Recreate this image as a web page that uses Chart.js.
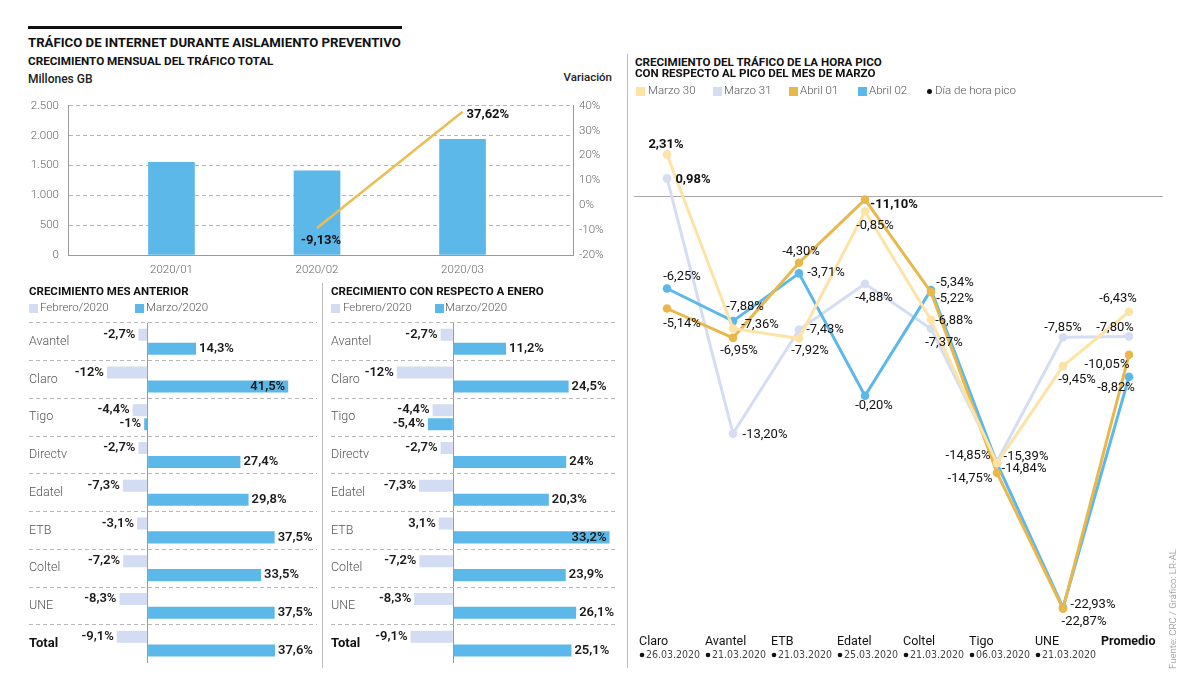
<!DOCTYPE html>
<html lang="es">
<head>
<meta charset="utf-8">
<title>Tráfico de internet durante aislamiento preventivo</title>
<script src="https://cdn.jsdelivr.net/npm/chart.js@4.4.1/dist/chart.umd.min.js"></script>
<style>
    body { margin: 0; background: #fff; font-family: Roboto, "Noto Sans", sans-serif; color: #222; }
    #page { position: relative; width: 1200px; height: 691px; overflow: hidden; background: #fff; }
    .t { position: absolute; white-space: nowrap; line-height: 1; }
    .h { font-weight: 700; color: #111; }
    .lg { font-size: 11.5px; font-weight: 300; color: #555; }
    .sq { position: absolute; width: 9px; height: 9px; }
    .rule { position: absolute; background: #bdbdbd; width: 1px; }
    canvas { position: absolute; }
</style>
</head>
<body>
<div id="page">
    <div style="position:absolute;left:28px;top:25.5px;width:374px;height:3px;background:#111"></div>
    <div class="t h" style="left:28px;top:36.2px;font-size:13.2px">TRÁFICO DE INTERNET DURANTE AISLAMIENTO PREVENTIVO</div>
    <div class="t h" style="left:28px;top:56.2px;font-size:11.7px">CRECIMIENTO MENSUAL DEL TRÁFICO TOTAL</div>
    <div class="t" style="left:28px;top:72.8px;font-size:12px;font-weight:500;color:#222">Millones GB</div>
    <div class="t" style="right:588px;top:72px;font-size:11.5px;font-weight:500;color:#222">Variación</div>

    <canvas id="c-mensual" width="620" height="195" style="left:0;top:90px"></canvas>

    <!-- bloque inferior izquierdo -->
    <div class="t h" style="left:29px;top:286px;font-size:11.5px">CRECIMIENTO MES ANTERIOR</div>
    <div class="sq" style="left:29px;top:303.5px;background:#d2dcf2"></div>
    <div class="t lg" style="left:40px;top:302px">Febrero/2020</div>
    <div class="sq" style="left:135px;top:303.5px;background:#5cb8e9"></div>
    <div class="t lg" style="left:146px;top:302px">Marzo/2020</div>
    <canvas id="c-anterior" width="322" height="355" style="left:0;top:315px"></canvas>

    <div class="rule" style="left:322px;top:283px;height:385px"></div>

    <div class="t h" style="left:331px;top:286px;font-size:11.6px">CRECIMIENTO CON RESPECTO A ENERO</div>
    <div class="sq" style="left:331px;top:303.5px;background:#d2dcf2"></div>
    <div class="t lg" style="left:343px;top:302px">Febrero/2020</div>
    <div class="sq" style="left:435px;top:303.5px;background:#5cb8e9"></div>
    <div class="t lg" style="left:445px;top:302px">Marzo/2020</div>
    <canvas id="c-enero" width="300" height="355" style="left:322px;top:315px"></canvas>

    <!-- bloque derecho -->
    <div class="rule" style="left:627px;top:54px;height:614px"></div>
    <div class="t h" style="left:635px;top:56.6px;font-size:11.6px">CRECIMIENTO DEL TRÁFICO DE LA HORA PICO</div>
    <div class="t h" style="left:635px;top:68.2px;font-size:11.6px">CON RESPECTO AL PICO DEL MES DE MARZO</div>
    <div class="sq" style="left:636px;top:86.5px;background:#fde3a5"></div>
    <div class="t lg" style="left:648px;top:85px">Marzo 30</div>
    <div class="sq" style="left:712.5px;top:86.5px;background:#d5ddf3"></div>
    <div class="t lg" style="left:724px;top:85px">Marzo 31</div>
    <div class="sq" style="left:789px;top:86.5px;background:#e9b84c"></div>
    <div class="t lg" style="left:800px;top:85px">Abril 01</div>
    <div class="sq" style="left:858px;top:86.5px;background:#5cb8e9"></div>
    <div class="t lg" style="left:869px;top:85px">Abril 02</div>
    <div style="position:absolute;left:926.5px;top:88.5px;width:5px;height:5px;border-radius:50%;background:#111"></div>
    <div class="t lg" style="left:935px;top:85px">Día de hora pico</div>
    <canvas id="c-pico" width="560" height="580" style="left:620px;top:100px"></canvas>

    <div class="t" style="left:1168px;top:669px;font-size:9.6px;font-weight:300;color:#888;transform:rotate(-90deg);transform-origin:0 0">Fuente: CRC / Gráfico: LR-AL</div>
</div>

<script>
// --- datos: tráfico mensual ---
const meses = ['2020/01', '2020/02', '2020/03'];
const traficoMillonesGB = [1552, 1410, 1940];
const variacionMensual = [null, -9.13, 37.62];

// --- datos: crecimiento por operador ---
const operadores = ['Avantel', 'Claro', 'Tigo', 'Directv', 'Edatel', 'ETB', 'Coltel', 'UNE', 'Total'];
const anteriorFebrero = [-2.7, -12, -4.4, -2.7, -7.3, -3.1, -7.2, -8.3, -9.1];
const anteriorMarzo = [14.3, 41.5, -1, 27.4, 29.8, 37.5, 33.5, 37.5, 37.6];
const eneroFebrero = [-2.7, -12, -4.4, -2.7, -7.3, -3.1, -7.2, -8.3, -9.1];
const eneroMarzo = [11.2, 24.5, -5.4, 24, 20.3, 33.2, 23.9, 26.1, 25.1];
const eneroFebreroTextos = ['-2,7%', '-12%', '-4,4%', '-2,7%', '-7,3%', '3,1%', '-7,2%', '-8,3%', '-9,1%'];

// --- datos: hora pico ---
const empresasPico = ['Claro', 'Avantel', 'ETB', 'Edatel', 'Coltel', 'Tigo', 'UNE', 'Promedio'];
const fechasPico = ['26.03.2020', '21.03.2020', '21.03.2020', '25.03.2020', '21.03.2020', '06.03.2020', '21.03.2020', ''];
const marzo30 = [2.31, -7.36, -7.92, -0.85, -6.88, -14.84, -9.45, -6.43];
const marzo31 = [0.98, -13.20, -7.43, -4.88, -7.37, -14.75, -7.85, -7.80];
const abril01 = [-6.25, -7.88, -3.71, -0.20, -5.34, -15.39, -22.93, -8.82];
const abril02 = [-5.14, -6.95, -4.30, -11.10, -5.22, -14.85, -22.87, -10.05];
// textos tal como aparecen junto a cada punto
const textosMarzo30 = ['2,31%', '-7,36%', '-7,92%', '-0,85%', '-6,88%', '-14,84%', '-9,45%', '-6,43%'];
const textosMarzo31 = ['0,98%', '-13,20%', '-7,43%', '-4,88%', '-7,37%', '-15,39%', '-7,85%', '-7,80%'];
const textosAbril01 = ['-5,14%', '-6,95%', '-4,30%', '-11,10%', '-5,22%', '-14,75%', '-22,87%', '-10,05%'];
const textosAbril02 = ['-6,25%', '-7,88%', '-3,71%', '-0,20%', '-5,34%', '-14,85%', '-22,93%', '-8,82%'];
const textosNegrita = ['2,31%', '0,98%', '-11,10%'];

// desplazamiento de cada etiqueta respecto a su punto [dx, dy] (centro del texto)
const despMarzo30 = [[-1, -10], [27, -4], [11, 12], [10, 14], [23, 1], [27, 6], [14, 14], [-11, -13]];
const despMarzo31 = [[26, 1], [32, 1], [26, 0], [9, 14], [13, 14], [29, -5], [0, -10], [-14, -9]];
const despAbril01 = [[15, 15], [6, 13], [2, -11], [29, 5], [24, 7], [-27, 6], [21, 13], [-22, 10]];
const despAbril02 = [[15, -12], [12, -14], [27, -1], [9, 10], [24, -7], [-29, -8], [30, -3], [-13, 11]];

const FAMILIA = 'Roboto, "Noto Sans", sans-serif';
const ANGOSTA = '"Liberation Sans Narrow", "DejaVu Sans Condensed", sans-serif';
const AZUL = '#5cb8e9';
const LILA = '#d2dcf2';

function pct(v) {
    return String(v).replace('.', ',') + '%';
}
function miles(v) {
    return String(v).replace(/\B(?=(\d{3})+(?!\d))/g, '.');
}

const base = {
    responsive: false,
    animation: false,
    events: [],
    plugins: { legend: { display: false }, tooltip: { enabled: false } }
};

// ---------- gráfico mensual (barras + variación) ----------
const etiquetasMensual = {
    id: 'etiquetasMensual',
    afterDatasetsDraw(chart) {
        const { ctx } = chart;
        const linea = chart.getDatasetMeta(0).data;
        ctx.save();
        ctx.font = `700 13px ${FAMILIA}`;
        ctx.fillStyle = '#111';
        ctx.textBaseline = 'middle';
        // primer punto: debajo, centrado; segundo: a la derecha
        ctx.textAlign = 'center';
        ctx.fillText(pct(variacionMensual[1]), linea[0].x + 4, linea[0].y + 13);
        ctx.textAlign = 'left';
        ctx.fillText(pct(variacionMensual[2]), linea[1].x + 4, linea[1].y + 3);
        ctx.restore();
    }
};

const tickFont = { family: FAMILIA, size: 11.5, weight: 300 };

new Chart(document.getElementById('c-mensual'), {
    type: 'bar',
    data: {
        datasets: [
            {
                type: 'line',
                yAxisID: 'y1',
                data: meses.map((m, i) => ({ x: i + 1, y: variacionMensual[i] })).filter(p => p.y !== null),
                borderColor: '#eabd55',
                borderWidth: 2.5,
                pointRadius: 0,
                order: 0
            },
            {
                type: 'bar',
                yAxisID: 'y',
                data: meses.map((m, i) => ({ x: i + 1, y: traficoMillonesGB[i] })),
                backgroundColor: AZUL,
                barThickness: 46,
                order: 1
            }
        ]
    },
    options: {
        ...base,
        layout: { padding: { top: 12, left: 0, right: 0, bottom: 0 } },
        scales: {
            x: {
                type: 'linear',
                offset: false,
                min: 0.289,
                max: 3.759,
                afterBuildTicks: s => { s.ticks = meses.map((m, i) => ({ value: i + 1 })); },
                afterFit: s => { s.height = 30; },
                ticks: { callback: v => meses[v - 1], font: tickFont, color: '#666', padding: 8 },
                grid: { display: false, drawTicks: false },
                border: { color: '#9a9a9a' }
            },
            y: {
                min: 0,
                max: 2500,
                afterFit: s => { s.width = 68; },
                ticks: { stepSize: 500, callback: v => miles(v), font: tickFont, color: '#666', padding: 9 },
                grid: { color: '#b5b5b5', drawTicks: false },
                border: { color: '#9a9a9a', dash: [4, 3] }
            },
            y1: {
                position: 'right',
                min: -20,
                max: 40,
                afterFit: s => { s.width = 47; },
                ticks: { stepSize: 10, callback: v => v + '%', font: tickFont, color: '#666', padding: 6 },
                grid: { display: false, drawTicks: false },
                border: { color: '#9a9a9a' }
            }
        }
    },
    plugins: [etiquetasMensual]
});

// ---------- barras horizontales por operador ----------
const etiquetasBarras = {
    id: 'etiquetasBarras',
    afterDatasetsDraw(chart) {
        const { ctx, chartArea } = chart;
        ctx.save();
        ctx.font = `600 13px ${FAMILIA}`;
        ctx.fillStyle = '#1a1a1a';
        ctx.textBaseline = 'middle';
        chart.data.datasets.forEach((ds, di) => {
            chart.getDatasetMeta(di).data.forEach((bar, i) => {
                const v = ds.data[i];
                const txt = ds.textos ? ds.textos[i] : pct(v);
                const w = ctx.measureText(txt).width;
                if (v < 0 || bar.x + 4 + w > chartArea.right + 4) {
                    ctx.textAlign = 'right';
                    ctx.fillText(txt, bar.x - 3, bar.y);
                } else {
                    ctx.textAlign = 'left';
                    ctx.fillText(txt, bar.x + 3, bar.y);
                }
            });
        });
        ctx.restore();
    }
};

function barrasOperadores(id, febrero, marzo, textosFeb, xMin, xMax, paso, padIzq, padDer) {
    new Chart(document.getElementById(id), {
        type: 'bar',
        data: {
            labels: operadores,
            datasets: [
                { data: febrero, textos: textosFeb, backgroundColor: LILA, categoryPercentage: 0.74, barPercentage: 0.86 },
                { data: marzo, backgroundColor: AZUL, categoryPercentage: 0.74, barPercentage: 0.86 }
            ]
        },
        options: {
            ...base,
            indexAxis: 'y',
            layout: { padding: { left: padIzq, right: padDer, top: 7, bottom: 1.5 } },
            scales: {
                x: {
                    min: xMin,
                    max: xMax,
                    afterFit: s => { s.height = 0; },
                    ticks: { display: false, stepSize: paso },
                    grid: { drawTicks: false, color: c => (c.tick && c.tick.value === 0 ? '#9a9a9a' : 'transparent') },
                    border: { display: false }
                },
                y: {
                    afterFit: s => { s.width = 0; },
                    ticks: {
                        mirror: true,
                        padding: 0,
                        font: c => (c.index === operadores.length - 1
                            ? { family: FAMILIA, size: 13, weight: 700 }
                            : { family: FAMILIA, size: 12.5, weight: 300 }),
                        color: c => (c.index === operadores.length - 1 ? '#111' : '#555')
                    },
                    grid: {
                        drawTicks: false,
                        offset: true,
                        color: c => (c.index < operadores.length ? '#b8b8b8' : 'transparent')
                    },
                    border: { display: false, dash: [4, 3] }
                }
            }
        },
        plugins: [etiquetasBarras]
    });
}

barrasOperadores('c-anterior', anteriorFebrero, anteriorMarzo, null, -35, 50, 5, 29, 5);
barrasOperadores('c-enero', eneroFebrero, eneroMarzo, eneroFebreroTextos, -26, 35, 13, 9, 4);

// ---------- hora pico ----------
const dibujoPico = {
    id: 'dibujoPico',
    beforeDatasetsDraw(chart) {
        const { ctx, chartArea, scales } = chart;
        const y0 = Math.round(scales.y.getPixelForValue(0)) + 0.5;
        ctx.save();
        ctx.strokeStyle = '#a8a8a8';
        ctx.lineWidth = 1;
        ctx.beginPath();
        ctx.moveTo(chartArea.left - 33, y0);
        ctx.lineTo(chartArea.right + 34, y0);
        ctx.stroke();
        ctx.restore();
    },
    afterDatasetsDraw(chart) {
        const { ctx, scales } = chart;
        ctx.save();
        ctx.textBaseline = 'middle';
        // etiquetas de valores
        chart.data.datasets.forEach((ds, di) => {
            chart.getDatasetMeta(di).data.forEach((pt, i) => {
                const txt = ds.textos[i];
                const [dx, dy] = ds.desp[i];
                ctx.font = `${textosNegrita.includes(txt) ? 700 : 400} 13px ${FAMILIA}`;
                ctx.fillStyle = '#111';
                ctx.textAlign = 'center';
                ctx.fillText(txt, pt.x + dx, pt.y + dy);
            });
        });
        // eje x: empresa y fecha del pico
        empresasPico.forEach((nombre, i) => {
            const x = scales.x.getPixelForValue(i) - 28;
            const ultimo = i === empresasPico.length - 1;
            ctx.textAlign = 'left';
            ctx.fillStyle = '#111';
            ctx.font = `${ultimo ? 700 : 400} 12.5px ${FAMILIA}`;
            ctx.fillText(nombre, x, 542);
            if (fechasPico[i]) {
                ctx.beginPath();
                ctx.arc(x + 3, 555, 2.3, 0, Math.PI * 2);
                ctx.fill();
                ctx.fillStyle = '#444';
                ctx.font = `10.5px ${ANGOSTA}`;
                ctx.fillText(fechasPico[i], x + 7, 555);
            }
        });
        ctx.restore();
    }
};

function seriePico(valores, color, textos, desp, orden) {
    return {
        data: valores,
        textos,
        desp,
        borderColor: color,
        backgroundColor: color,
        pointBackgroundColor: color,
        borderWidth: 3,
        pointRadius: 4.3,
        pointBorderWidth: 0,
        tension: 0,
        clip: false,
        order: orden
    };
}

new Chart(document.getElementById('c-pico'), {
    type: 'line',
    data: {
        labels: empresasPico,
        datasets: [
            seriePico(marzo30, '#fde3a5', textosMarzo30, despMarzo30, 0),
            seriePico(abril01, '#e9b84c', textosAbril01, despAbril01, 1),
            seriePico(abril02, AZUL, textosAbril02, despAbril02, 2),
            seriePico(marzo31, '#d5ddf3', textosMarzo31, despMarzo31, 3)
        ]
    },
    options: {
        ...base,
        layout: { padding: { left: 47, right: 51, top: 6, bottom: 34 } },
        scales: {
            x: { display: false, offset: false },
            y: { display: false, min: -25, max: 5 }
        }
    },
    plugins: [dibujoPico]
});
</script>
</body>
</html>
